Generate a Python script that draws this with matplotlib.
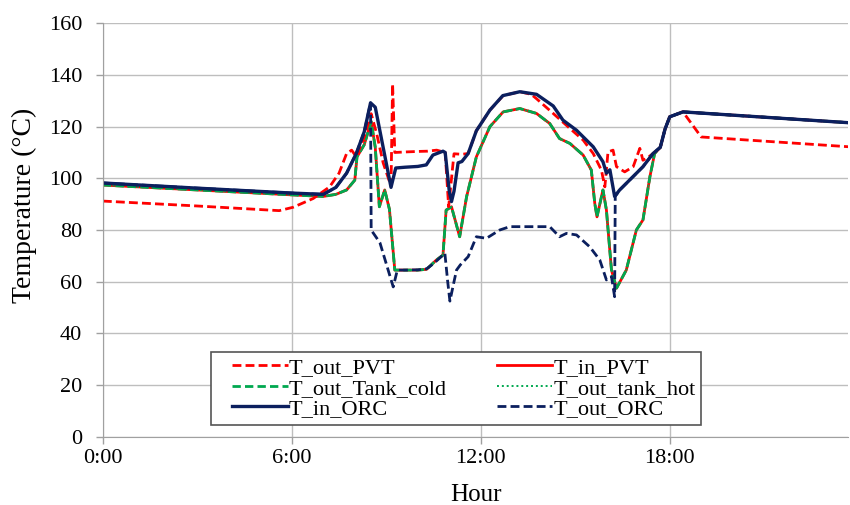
import matplotlib
matplotlib.use("Agg")
import matplotlib.pyplot as plt
from matplotlib.lines import Line2D
from matplotlib.legend_handler import HandlerLine2D

plt.rcParams["font.family"] = ["Liberation Serif", "DejaVu Serif"]

# hours of the day and temperatures (deg C)
hours_in_orc = [0, 3, 6, 7.0, 7.4, 7.74, 8.05, 8.3, 8.5, 8.65, 8.9, 9.15, 9.3, 9.6,
                10.0, 10.27, 10.48, 10.8, 10.87, 11.0, 11.07, 11.15, 11.28, 11.4, 11.6,
                11.86, 12.29, 12.7, 13.24, 13.77, 14.3, 14.61, 15.04, 15.57, 15.88,
                15.99, 16.1, 16.25, 16.41, 16.83, 17.15, 17.47, 17.7, 17.85, 18.0,
                18.42, 23.7]
temp_in_orc = [98.2, 96.2, 94.3, 93.8, 96.5, 102, 109.7, 118, 129.2, 127.5, 112, 96.5,
               104, 104.3, 104.6, 105.2, 109, 110.5, 110, 95, 91, 95, 106, 106.5, 109.6,
               118.4, 126.4, 132, 133.5, 132.5, 128, 122.5, 118.6, 112.2, 106.4,
               102, 103.3, 93, 95.5, 100.6, 104.5, 109.6, 112, 119, 123.8,
               125.7, 121.5]

hours_out_orc = [0, 3, 6, 7.0, 7.4, 7.74, 8.05, 8.3, 8.5, 8.52, 8.69, 8.8, 9.22, 9.35,
                 9.6, 10.0, 10.28, 10.5, 10.86, 10.95, 11.02, 11.15, 11.23, 11.35, 11.6,
                 11.86, 12.18, 12.6, 12.92, 13.5, 14.19, 14.5, 14.72, 15.04, 15.46,
                 15.78, 15.99, 16.15, 16.25, 16.27, 16.41, 16.83, 17.15, 17.47, 17.7,
                 17.85, 18.0, 18.42, 23.7]
temp_out_orc = [98.2, 96.2, 94.3, 93.8, 96.5, 102, 109.7, 118, 129.2, 80, 77, 75, 58,
                64.5, 64.5, 64.6, 65, 67, 71, 60, 52.5, 60, 64.5, 66.5, 69.7,
                77.4, 76.8, 80, 81.3, 81.3, 81.3, 77.4, 78.7, 78.1, 73.5,
                68.4, 60.7, 62, 54.2, 93, 95.5, 100.6, 104.5, 109.6, 112,
                119, 123.8, 125.7, 121.5]

hours_tank_cold = [0, 3, 6, 7.0, 7.4, 7.74, 8.0, 8.07, 8.3, 8.52, 8.65, 8.78, 8.95,
                   9.1, 9.27, 9.6, 10.0, 10.28, 10.59, 10.8, 10.9, 11.07, 11.33, 11.55,
                   11.86, 12.29, 12.71, 13.24, 13.77, 14.19, 14.5, 14.83, 15.25, 15.51,
                   15.62, 15.69, 15.88, 15.99, 16.15, 16.31, 16.62, 16.94, 17.15,
                   17.37, 17.52, 17.7, 17.85, 18.0, 18.42, 23.7]
temp_tank_cold = [97.4, 95.5, 93.6, 93, 93.8, 95.5, 99.3, 108.3, 113, 122, 112, 89,
                  95.5, 88, 64.5, 64.5, 64.5, 64.8, 68.4, 70.3, 87.7, 89, 77.4, 92.9,
                  108.3, 120, 125.7, 127, 125.1, 121.2, 115.4, 113.5, 109, 103.2,
                  90.3, 85.1, 95.5, 87.7, 64.5, 57.5, 64.5, 80, 83.9,
                  100.6, 109.6, 112, 119, 123.8, 125.7, 121.5]

# T_in_PVT and T_out_tank_hot lie on top of T_out_Tank_cold in the chart
hours_in_pvt = hours_tank_cold
temp_in_pvt = temp_tank_cold
hours_tank_hot = hours_tank_cold
temp_tank_hot = temp_tank_cold

hours_out_pvt = [0, 3, 5.6, 6.04, 6.68, 7.2, 7.5, 7.74, 7.9, 8.05, 8.3, 8.52, 8.7, 8.9,
                 9.15, 9.2, 9.27, 9.6, 10.0, 10.3, 10.6, 10.87, 10.98, 11.15, 11.4,
                 11.6, 11.86, 12.29, 12.71, 13.24, 13.6, 13.77, 14.3, 14.83, 15.25,
                 15.57, 15.83, 15.94, 16.04, 16.2, 16.31, 16.57, 16.84, 17.05, 17.15,
                 17.3, 17.47, 17.7, 17.85, 18.0, 18.42, 19.0, 23.7]
temp_out_pvt = [91.2, 89.3, 87.5, 88.8, 92.2, 96.7, 102, 109.6, 110.9, 108.3, 116,
                125, 117, 106, 97, 136.5, 110, 110.2, 110.4, 110.5, 110.9, 110, 89,
                109.5, 109.3, 109.6, 118.4, 126.4, 132, 133.5, 132.5, 130.8, 125.1,
                119.3, 114.8, 109.6, 103.2, 96.7, 110.2, 110.9, 104.5, 102.5, 104.5,
                111.6, 107, 108, 109.6, 112, 119, 123.8, 125.7, 116, 112.2]

x_ticks = [0, 6, 12, 18]
x_tick_labels = ["0:00", "6:00", "12:00", "18:00"]
y_ticks = [0, 20, 40, 60, 80, 100, 120, 140, 160]

red = "#FF0000"
green = "#00A84F"
navy = "#0B1F5E"

fig = plt.figure(figsize=(8.5, 5.05), dpi=100)
ax = fig.add_axes([0.121, 0.135, 0.877, 0.819])

l_in_pvt, = ax.plot(hours_in_pvt, temp_in_pvt, color=red, lw=2.0, label="T_in_PVT")
l_cold, = ax.plot(hours_tank_cold, temp_tank_cold, color=green, lw=2.0,
                  dashes=(3.0, 1.5), label="T_out_Tank_cold")
l_hot, = ax.plot(hours_tank_hot, temp_tank_hot, color=green, lw=1.4,
                 dashes=(1, 1.5), label="T_out_tank_hot")
l_out_pvt, = ax.plot(hours_out_pvt, temp_out_pvt, color=red, lw=2.0,
                     dashes=(3.2, 1.5), label="T_out_PVT")
l_in_orc, = ax.plot(hours_in_orc, temp_in_orc, color=navy, lw=2.4, label="T_in_ORC")
l_out_orc, = ax.plot(hours_out_orc, temp_out_orc, color=navy, lw=2.0,
                     dashes=(3.2, 1.5), label="T_out_ORC")

ax.set_xlim(0, 23.67)
ax.set_ylim(0, 160)
ax.set_xticks(x_ticks)
ax.set_xticklabels(x_tick_labels)
ax.set_yticks(y_ticks)
ax.tick_params(labelsize=16, color="#A0A0A0", length=5, width=1)
ax.tick_params(axis="y", pad=10)
ax.grid(True, color="#BEBEBE", lw=1)
ax.set_axisbelow(True)
for side in ["top", "right"]:
    ax.spines[side].set_visible(False)
for side in ["left", "bottom"]:
    ax.spines[side].set_color("#A0A0A0")

ax.set_xlabel("Hour", fontsize=18, labelpad=12)
ax.set_ylabel("Temperature (°C)", fontsize=20)
ax.yaxis.set_label_coords(-0.088, 0.56)

handles = [l_out_pvt, l_cold, l_in_orc, l_in_pvt, l_hot, l_out_orc]
leg = ax.legend(handles=handles, labels=[h.get_label() for h in handles],
                ncol=2, loc="lower left", bbox_to_anchor=(0.145, 0.029),
                fontsize=16, handlelength=3.2, handletextpad=0.05,
                labelspacing=0.0, borderpad=0.25, columnspacing=1.55,
                handler_map={Line2D: HandlerLine2D(xpad=0.7)},
                fancybox=False, framealpha=1, edgecolor="#555555", borderaxespad=0)
leg.get_frame().set_linewidth(1.2)

fig.savefig("out.png", dpi=100)
